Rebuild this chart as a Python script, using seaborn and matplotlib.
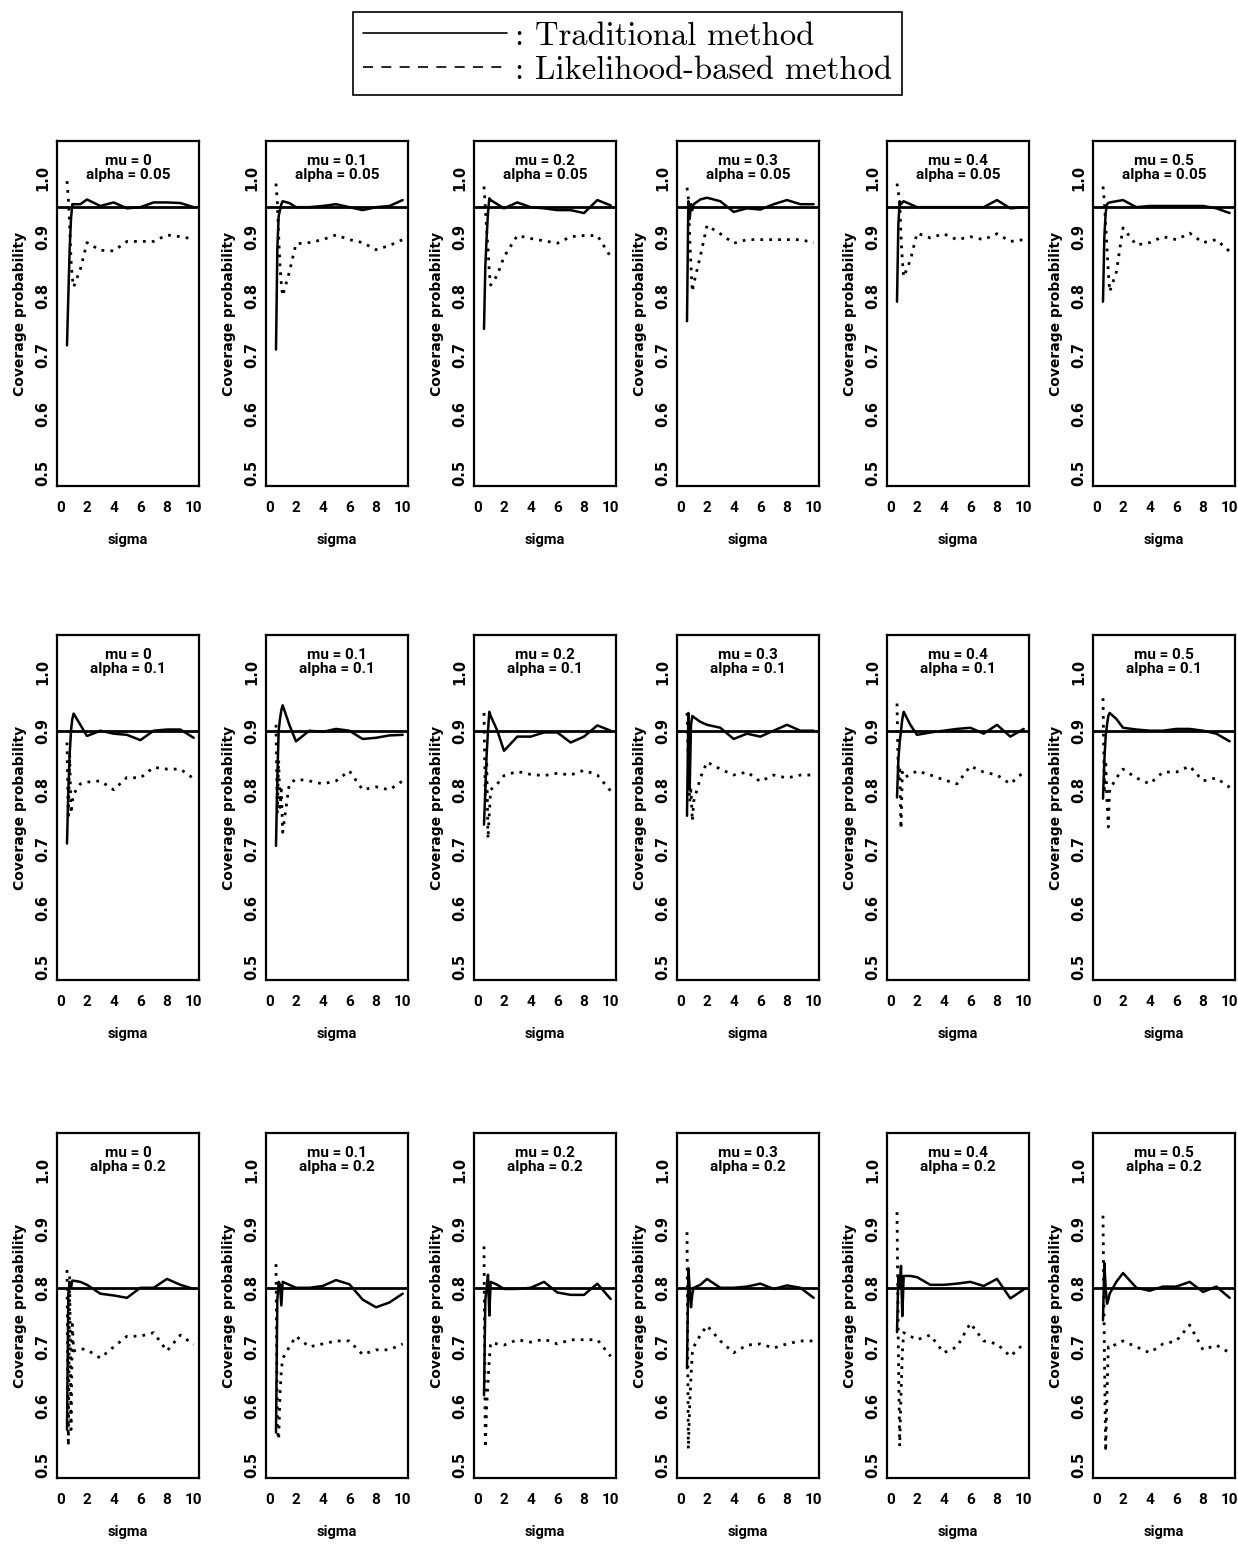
import numpy as np
import pandas as pd
import seaborn as sns
import matplotlib.pyplot as plt
from matplotlib.lines import Line2D

# sigma grid used for every panel
sigma = [0.5, 0.6, 0.7, 0.8, 0.9, 1.0, 1.5, 2, 3, 4, 5, 6, 7, 8, 9, 10]
mus = [0, 0.1, 0.2, 0.3, 0.4, 0.5]
alphas = [0.05, 0.1, 0.2]

# traditional method, one list per mu (alpha = 0.05)
trad_a05 = [
    [0.716, 0.80, 0.88, 0.93, 0.955, 0.955, 0.955, 0.963, 0.952, 0.958, 0.948, 0.950, 0.958, 0.958, 0.957, 0.950],
    [0.709, 0.88, 0.935, 0.945, 0.955, 0.960, 0.957, 0.950, 0.950, 0.952, 0.955, 0.950, 0.945, 0.950, 0.952, 0.962],
    [0.744, 0.85, 0.90, 0.94, 0.965, 0.962, 0.955, 0.948, 0.958, 0.950, 0.948, 0.945, 0.945, 0.940, 0.962, 0.953],
    [0.757, 0.96, 0.93, 0.955, 0.945, 0.955, 0.963, 0.966, 0.960, 0.942, 0.948, 0.946, 0.955, 0.962, 0.955, 0.955],
    [0.790, 0.92, 0.96, 0.955, 0.958, 0.960, 0.955, 0.950, 0.950, 0.950, 0.950, 0.950, 0.950, 0.962, 0.948, 0.950],
    [0.790, 0.90, 0.94, 0.955, 0.957, 0.958, 0.960, 0.962, 0.950, 0.952, 0.952, 0.952, 0.952, 0.952, 0.948, 0.940],
]
# likelihood-based method (alpha = 0.05)
like_a05 = [
    [0.994, 0.965, 0.92, 0.86, 0.83, 0.815, 0.845, 0.890, 0.877, 0.876, 0.892, 0.892, 0.892, 0.903, 0.900, 0.896],
    [0.990, 0.960, 0.90, 0.85, 0.82, 0.800, 0.840, 0.888, 0.890, 0.895, 0.903, 0.895, 0.890, 0.878, 0.885, 0.895],
    [0.985, 0.950, 0.91, 0.88, 0.84, 0.818, 0.835, 0.866, 0.902, 0.897, 0.893, 0.889, 0.900, 0.902, 0.902, 0.866],
    [0.983, 0.965, 0.90, 0.85, 0.807, 0.820, 0.867, 0.919, 0.905, 0.889, 0.895, 0.895, 0.895, 0.895, 0.895, 0.890],
    [0.990, 0.975, 0.96, 0.90, 0.86, 0.832, 0.860, 0.906, 0.898, 0.905, 0.895, 0.900, 0.895, 0.905, 0.892, 0.895],
    [0.985, 0.960, 0.92, 0.88, 0.84, 0.807, 0.840, 0.915, 0.886, 0.890, 0.900, 0.895, 0.906, 0.890, 0.895, 0.875],
]

# alpha = 0.1
trad_a10 = [
    [0.709, 0.80, 0.86, 0.90, 0.92, 0.929, 0.910, 0.891, 0.900, 0.895, 0.893, 0.884, 0.900, 0.902, 0.902, 0.888],
    [0.705, 0.82, 0.90, 0.92, 0.935, 0.943, 0.910, 0.882, 0.900, 0.898, 0.903, 0.900, 0.886, 0.888, 0.892, 0.893],
    [0.741, 0.80, 0.86, 0.90, 0.932, 0.925, 0.900, 0.866, 0.890, 0.890, 0.897, 0.897, 0.880, 0.890, 0.909, 0.900],
    [0.756, 0.930, 0.80, 0.91, 0.925, 0.923, 0.915, 0.910, 0.905, 0.886, 0.895, 0.890, 0.900, 0.910, 0.900, 0.900],
    [0.787, 0.85, 0.88, 0.90, 0.92, 0.932, 0.910, 0.893, 0.897, 0.900, 0.903, 0.905, 0.895, 0.910, 0.890, 0.903],
    [0.785, 0.85, 0.89, 0.91, 0.925, 0.930, 0.920, 0.905, 0.902, 0.900, 0.900, 0.903, 0.903, 0.900, 0.895, 0.882],
]
like_a10 = [
    [0.880, 0.750, 0.860, 0.760, 0.780, 0.793, 0.810, 0.813, 0.815, 0.800, 0.821, 0.820, 0.838, 0.835, 0.835, 0.819],
    [0.910, 0.760, 0.850, 0.770, 0.800, 0.728, 0.810, 0.818, 0.815, 0.810, 0.815, 0.832, 0.800, 0.805, 0.800, 0.815],
    [0.930, 0.780, 0.850, 0.717, 0.760, 0.800, 0.810, 0.824, 0.831, 0.826, 0.824, 0.828, 0.825, 0.833, 0.825, 0.798],
    [0.930, 0.850, 0.780, 0.800, 0.747, 0.780, 0.820, 0.847, 0.835, 0.825, 0.830, 0.814, 0.825, 0.820, 0.825, 0.825],
    [0.946, 0.820, 0.840, 0.734, 0.830, 0.821, 0.825, 0.832, 0.825, 0.817, 0.810, 0.840, 0.830, 0.825, 0.810, 0.830],
    [0.955, 0.800, 0.850, 0.780, 0.737, 0.800, 0.820, 0.835, 0.820, 0.810, 0.830, 0.830, 0.840, 0.815, 0.820, 0.804],
]

# alpha = 0.2
trad_a20 = [
    [0.560, 0.790, 0.810, 0.800, 0.812, 0.812, 0.810, 0.805, 0.790, 0.787, 0.783, 0.800, 0.800, 0.815, 0.805, 0.798],
    [0.555, 0.780, 0.810, 0.805, 0.770, 0.810, 0.805, 0.800, 0.800, 0.803, 0.813, 0.806, 0.780, 0.767, 0.775, 0.790],
    [0.618, 0.780, 0.800, 0.822, 0.753, 0.810, 0.805, 0.798, 0.798, 0.800, 0.810, 0.792, 0.788, 0.788, 0.807, 0.781],
    [0.664, 0.833, 0.800, 0.767, 0.790, 0.800, 0.805, 0.815, 0.800, 0.800, 0.802, 0.807, 0.798, 0.804, 0.800, 0.783],
    [0.725, 0.820, 0.800, 0.837, 0.752, 0.820, 0.820, 0.818, 0.805, 0.805, 0.807, 0.810, 0.803, 0.815, 0.782, 0.797],
    [0.745, 0.842, 0.800, 0.773, 0.780, 0.790, 0.810, 0.825, 0.800, 0.795, 0.802, 0.802, 0.810, 0.793, 0.802, 0.783],
]
like_a20 = [
    [0.830, 0.532, 0.820, 0.560, 0.738, 0.693, 0.697, 0.695, 0.681, 0.700, 0.718, 0.718, 0.724, 0.693, 0.720, 0.704],
    [0.840, 0.560, 0.543, 0.620, 0.660, 0.680, 0.700, 0.718, 0.700, 0.705, 0.710, 0.710, 0.687, 0.695, 0.695, 0.705],
    [0.870, 0.529, 0.600, 0.640, 0.680, 0.707, 0.705, 0.703, 0.712, 0.708, 0.713, 0.705, 0.712, 0.712, 0.712, 0.684],
    [0.894, 0.527, 0.600, 0.650, 0.690, 0.700, 0.720, 0.736, 0.710, 0.690, 0.703, 0.705, 0.698, 0.705, 0.710, 0.710],
    [0.928, 0.700, 0.532, 0.620, 0.690, 0.724, 0.718, 0.712, 0.720, 0.690, 0.700, 0.740, 0.710, 0.705, 0.684, 0.705],
    [0.922, 0.700, 0.523, 0.620, 0.700, 0.698, 0.705, 0.710, 0.700, 0.690, 0.705, 0.710, 0.737, 0.695, 0.703, 0.690],
]

trad_rows = [trad_a05, trad_a10, trad_a20]
like_rows = [like_a05, like_a10, like_a20]
alpha_labels = ['0.05', '0.1', '0.2']
mu_labels = ['0', '0.1', '0.2', '0.3', '0.4', '0.5']

sns.set_theme(style='white')
plt.rcParams['font.family'] = ['DejaVu Sans']
plt.rcParams['text.color'] = 'black'
plt.rcParams['axes.labelcolor'] = 'black'
plt.rcParams['xtick.color'] = 'black'
plt.rcParams['ytick.color'] = 'black'
narrow = ['Roboto', 'DejaVu Sans']

W, H = 1238, 1546
fig = plt.figure(figsize=(W / 100, H / 100), dpi=100)

lefts = [57, 266, 474, 677, 887, 1093]
tops = [141, 635, 1133]
aw, ah = 142, 345

for r in range(3):
    for c in range(6):
        ax = fig.add_axes([lefts[c] / W, 1 - (tops[r] + ah) / H, aw / W, ah / H])
        df = pd.DataFrame({'sigma': sigma,
                           'trad': trad_rows[r][c],
                           'like': like_rows[r][c]})
        sns.lineplot(data=df, x='sigma', y='trad', ax=ax, color='black',
                     linewidth=1.8, errorbar=None)
        sns.lineplot(data=df, x='sigma', y='like', ax=ax, color='black',
                     linewidth=2.0, linestyle=(0, (1, 2.2)), errorbar=None)
        ax.axhline(1 - alphas[r], color='black', linewidth=2.0)
        ax.set_xlim(-0.25, 10.4)
        ax.set_ylim(0.478, 1.062)
        ax.set_xticks([0, 2, 4, 6, 8, 10])
        ax.set_xticklabels(['0', '2', '4', '6', '8', '10'], family=narrow,
                           fontsize=11, fontweight='bold')
        ax.set_yticks([0.5, 0.6, 0.7, 0.8, 0.9, 1.0])
        ax.set_yticklabels(['0.5', '0.6', '0.7', '0.8', '0.9', '1.0'],
                           rotation=90, va='center', fontsize=10.5,
                           fontweight='bold')
        ax.tick_params(axis='x', length=0, pad=11)
        ax.tick_params(axis='y', length=0, pad=5)
        ax.set_xlabel('sigma', family=narrow, fontsize=10.5, fontweight='bold',
                      labelpad=13)
        ax.set_ylabel('Coverage probability', fontsize=10, fontweight='bold',
                      labelpad=6)
        for s in ax.spines.values():
            s.set_color('black')
            s.set_linewidth(1.6)
        ax.text(0.5, 0.962, 'mu = %s\nalpha = %s' % (mu_labels[c], alpha_labels[r]),
                transform=ax.transAxes, ha='center', va='top', family=narrow,
                fontsize=11, fontweight='bold', linespacing=0.95)

handles = [Line2D([], [], color='black', linewidth=1.2, linestyle='-'),
           Line2D([], [], color='black', linewidth=1.2, linestyle=(0, (6, 5)))]
leg = fig.legend(handles, [': Traditional method', ': Likelihood-based method'],
                 loc='upper center', bbox_to_anchor=(0.507, 0.9922),
                 prop={'family': 'cmr10', 'size': 23.5}, handlelength=4.4,
                 handletextpad=0.25, borderpad=0.3, labelspacing=0.15,
                 borderaxespad=0.0, frameon=True, fancybox=False,
                 edgecolor='black', framealpha=1)
leg.get_frame().set_linewidth(1.2)

fig.savefig('out.png', dpi=100, facecolor='white')
